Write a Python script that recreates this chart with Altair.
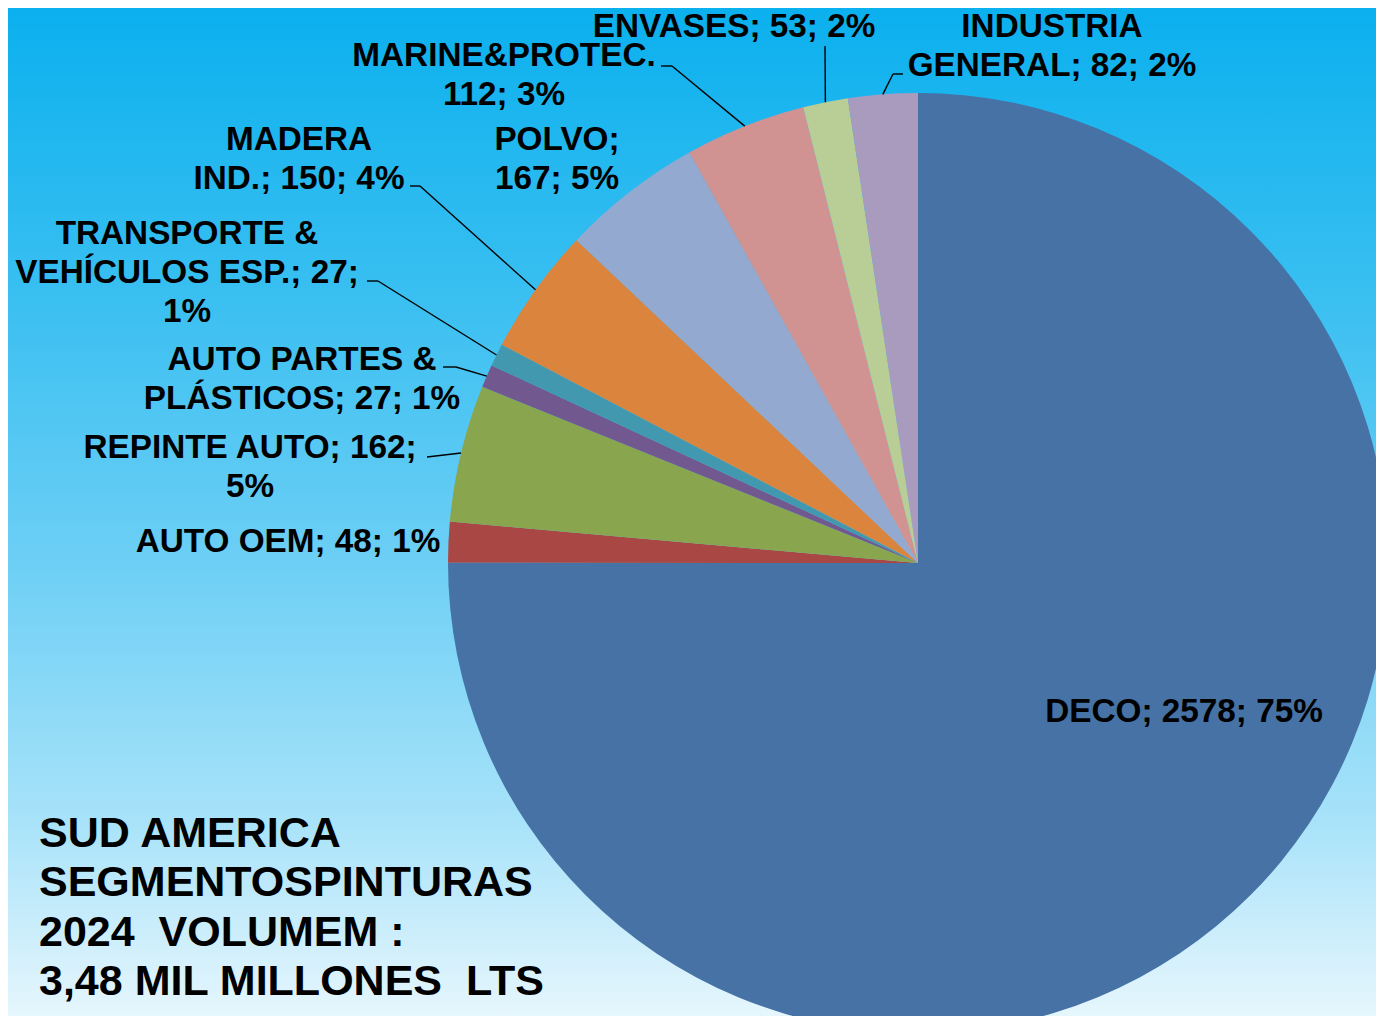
import math
import altair as alt
import pandas as pd

# ---------------- data ----------------
segments = [
    "DECO", "AUTO OEM", "REPINTE AUTO", "AUTO PARTES & PLÁSTICOS",
    "TRANSPORTE & VEHÍCULOS ESP.", "MADERA IND.", "POLVO",
    "MARINE&PROTEC.", "ENVASES", "INDUSTRIA GENERAL",
]
# slice sizes as drawn in the pie (DECO covers exactly 3/4 of the circle)
volumes = [2578, 48, 162, 27, 27, 150, 167, 143, 53, 82]
# texts printed on the data labels
label_texts = [
    "DECO; 2578; 75%",
    "AUTO OEM; 48; 1%",
    "REPINTE AUTO; 162;\n5%",
    "AUTO PARTES &\nPLÁSTICOS; 27; 1%",
    "TRANSPORTE &\nVEHÍCULOS ESP.; 27;\n1%",
    "MADERA\nIND.; 150; 4%",
    "POLVO;\n167; 5%",
    "MARINE&PROTEC.\n112; 3%",
    "ENVASES; 53; 2%",
    "INDUSTRIA\nGENERAL; 82; 2%",
]
colors = ["#4672A6", "#A94744", "#89A54E", "#71588F", "#4198AF",
          "#DB843D", "#94A9CF", "#D09392", "#B9CD96", "#A99BBD"]
title_text = "SUD AMERICA\nSEGMENTOSPINTURAS\n2024\u00a0 VOLUMEM :\n3,48 MIL MILLONES\u00a0 LTS"

# ---------------- layout ----------------
M = 8                              # page margin
W, H = 1384 - 2 * M, 1024 - 2 * M  # drawing size that fits the window
CX, CY, R = 918 - M, 563 - M, 470

# label anchor: centre x, first baseline y (page coordinates)
label_pos = {
    "DECO": (1184, 722),
    "AUTO OEM": (288, 552),
    "REPINTE AUTO": (250, 458),
    "AUTO PARTES & PLÁSTICOS": (302, 370),
    "TRANSPORTE & VEHÍCULOS ESP.": (187, 244),
    "MADERA IND.": (299, 150),
    "POLVO": (557, 150),
    "MARINE&PROTEC.": (504, 66),
    "ENVASES": (734, 37),
    "INDUSTRIA GENERAL": (1052, 37),
}
# leader line: start at label, elbow (page coordinates); ends on slice
leader_pts = {
    "REPINTE AUTO": [(427, 457), (427, 457)],
    "AUTO PARTES & PLÁSTICOS": [(443, 367), (456, 367)],
    "TRANSPORTE & VEHÍCULOS ESP.": [(367, 281), (378, 281)],
    "MADERA IND.": [(410, 186), (420, 186)],
    "MARINE&PROTEC.": [(661, 66), (672, 66)],
    "ENVASES": [(825, 46), (825, 46)],
    "INDUSTRIA GENERAL": [(903, 74), (893, 74)],
}

pie_df = pd.DataFrame({"segment": segments, "volume": volumes,
                       "idx": list(range(len(segments)))})

lab_df = pd.DataFrame({
    "x": [label_pos[s][0] - M for s in segments],
    "y": [label_pos[s][1] - M for s in segments],
    "text": label_texts,
})

total = sum(volumes)
rows = []
cum = 0
for s, v in zip(segments, volumes):
    a = (cum + v / 2) / total * 2 * math.pi
    cum += v
    if s in leader_pts:
        (x0, y0), (x1, y1) = leader_pts[s]
        ex, ey = CX + R * math.sin(a), CY - R * math.cos(a)
        rows.append({"x": x0 - M, "y": y0 - M, "x2": x1 - M, "y2": y1 - M})
        rows.append({"x": x1 - M, "y": y1 - M, "x2": ex, "y2": ey})
rule_df = pd.DataFrame(rows)

bg = alt.Chart(pd.DataFrame({"a": [0]})).mark_rect(
    color=alt.Gradient(
        gradient="linear",
        stops=[
            alt.GradientStop(color="#0bb0ee", offset=0),
            alt.GradientStop(color="#3cc0f1", offset=0.3),
            alt.GradientStop(color="#6dcff5", offset=0.55),
            alt.GradientStop(color="#a6e2f9", offset=0.8),
            alt.GradientStop(color="#e6f6fd", offset=1),
        ],
        x1=0, x2=0, y1=0, y2=1,
    )
).encode(x=alt.value(0), x2=alt.value(W), y=alt.value(0), y2=alt.value(H))

pie = alt.Chart(pie_df).mark_arc(radius=R, strokeWidth=0).encode(
    theta=alt.Theta("volume:Q", stack=True),
    color=alt.Color("segment:N", scale=alt.Scale(domain=segments, range=colors), legend=None),
    order=alt.Order("idx:Q", sort="ascending"),
    x=alt.value(CX),
    y=alt.value(CY),
)

leaders = alt.Chart(rule_df).mark_rule(color="black", strokeWidth=1.4).encode(
    x=alt.X("x:Q", scale=None, axis=None),
    y=alt.Y("y:Q", scale=None, axis=None),
    x2="x2:Q",
    y2="y2:Q",
)

labels = alt.Chart(lab_df).mark_text(
    font="Liberation Sans", fontWeight="bold", fontSize=33.3, color="black",
    align="center", baseline="alphabetic", lineBreak="\n", lineHeight=39,
).encode(
    x=alt.X("x:Q", scale=None, axis=None),
    y=alt.Y("y:Q", scale=None, axis=None),
    text="text:N",
)

title = alt.Chart(pd.DataFrame({"x": [39 - M], "y": [847 - M], "text": [title_text]})).mark_text(
    font="Liberation Sans", fontWeight="bold", fontSize=43, color="black",
    align="left", baseline="alphabetic", lineBreak="\n", lineHeight=49.3,
).encode(
    x=alt.X("x:Q", scale=None, axis=None),
    y=alt.Y("y:Q", scale=None, axis=None),
    text="text:N",
)

chart = alt.layer(bg, pie, leaders, labels, title).properties(
    width=W, height=H, padding=0,
    autosize=alt.AutoSizeParams(type="none"),
).configure_view(stroke=None)

chart.save("out.html", embed_options={"renderer": "svg", "actions": False})
